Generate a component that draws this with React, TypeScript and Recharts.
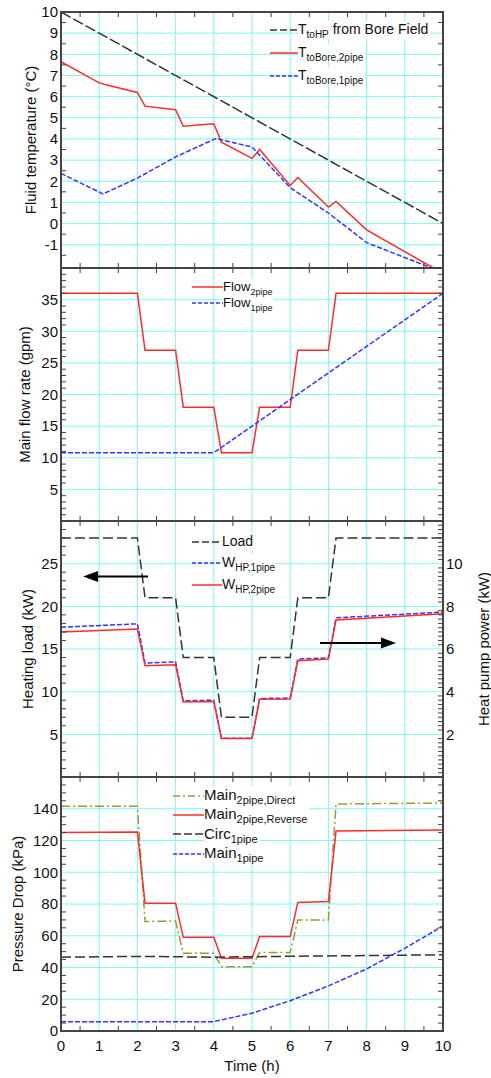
import React from 'react'
import { LineChart, Line, XAxis, YAxis, CartesianGrid, Legend, ReferenceLine } from 'recharts'

const FONT = '"Liberation Sans", Arial, Helvetica, sans-serif'
const GRID = '#7cf7f7'
const FRAME = '#444'
const RED = '#ff2b2b'
const BLUE = '#3434ff'
const BLACK = '#333'
const OLIVE = '#9a9a32'

// time axis (h)
const hourTicks = [0, 1, 2, 3, 4, 5, 6, 7, 8, 9, 10]

// panel 1: fluid temperature (°C)
const toHPTime = [0, 10]
const toHP = [10, 0]
const bore2Time = [0, 1, 1.2, 2, 2.2, 3, 3.2, 4, 4.2, 5, 5.2, 6, 6.2, 7, 7.2, 8, 9.75]
const bore2 = [7.65, 6.65, 6.55, 6.2, 5.55, 5.38, 4.6, 4.72, 3.85, 3.08, 3.5, 1.8, 2.18, 0.78, 1.05, -0.3, -2.1]
const bore1Time = [0, 1.1, 2, 3, 4.05, 5, 6, 7, 8, 9.7]
const bore1 = [2.37, 1.4, 2.15, 3.15, 4.02, 3.62, 1.7, 0.5, -0.9, -2.1]
const tempTicks = [-1, 0, 1, 2, 3, 4, 5, 6, 7, 8, 9, 10]

// panel 2: main flow rate (gpm)
const stepTime = [0, 2, 2.2, 3, 3.2, 4, 4.2, 5, 5.2, 6, 6.2, 7, 7.2, 10]
const flow2 = [36, 36, 27, 27, 18, 18, 10.8, 10.8, 18, 18, 27, 27, 36, 36]
const flow1Time = [0, 4, 10]
const flow1 = [10.8, 10.8, 36]
const flowTicks = [5, 10, 15, 20, 25, 30, 35]

// panel 3: heating load (kW) / heat pump power (kW)
const load = [28, 28, 21, 21, 14, 14, 7, 7, 14, 14, 21, 21, 28, 28]
const whp2 = [6.8, 6.94, 5.21, 5.26, 3.52, 3.54, 1.8, 1.8, 3.65, 3.66, 5.45, 5.53, 7.36, 7.65]
const whp1 = [7.02, 7.18, 5.34, 5.4, 3.57, 3.6, 1.82, 1.82, 3.68, 3.7, 5.53, 5.58, 7.46, 7.73]
const loadTicks = [5, 10, 15, 20, 25]
const powerTicks = [2, 4, 6, 8, 10]
const arrowLeft = [{ x: 2.28, y: 23.5 }, { x: 0.58, y: 23.5 }]
const arrowRight = [{ x: 6.78, y: 15.7 }, { x: 8.77, y: 15.7 }]

// panel 4: pressure drop (kPa)
const mainDirect = [141.5, 141.5, 69, 69.3, 49, 49, 40.5, 40.5, 49.4, 49.4, 70, 70, 143, 143.6]
const mainReverse = [125, 125.3, 80.5, 80.5, 59, 59, 45.8, 45.8, 59.5, 59.5, 81, 81.5, 126, 126.6]
const circTime = [0, 2, 4, 5, 7, 10]
const circ = [46.5, 47, 46.5, 46.8, 47.3, 48]
const main1Time = [0, 4, 5, 6, 7, 8, 9, 10]
const main1 = [5.9, 5.9, 11.2, 19.1, 28.4, 39.1, 52.1, 66.2]
const pressTicks = [0, 20, 40, 60, 80, 100, 120, 140]

const pts = (t: number[], v: number[]) => t.map((x, i) => ({ t: x, v: v[i] }))

// minor tick positions, skipping those that sit on a grid line
const minor = (lo: number, hi: number, step: number, major: number) => {
  const out: number[] = []
  for (let k = Math.ceil(lo / step); k * step <= hi + 1e-9; k++) {
    const v = Math.round(k * step * 1000) / 1000
    if (Math.abs(v / major - Math.round(v / major)) > 1e-6) out.push(v)
  }
  return out
}
const merge = (a: number[], b: number[]) => [...a, ...b].sort((p, q) => p - q)
const isMajor = (v: number, majors: number[]) => majors.some((m) => Math.abs(m - v) < 1e-6)

const PAD = 12
const LEFT = 61
const RIGHT = 48
const PLOT_W = 491 - LEFT - RIGHT
const TICK = 5
const frameLine = { stroke: FRAME, strokeWidth: 2 }
const txt = { fontSize: 15, fill: '#111', fontFamily: FONT }

function YTitle({ viewBox, text, dx }: any) {
  const vb = viewBox || { x: 0, y: 0, width: 0, height: 0 }
  const x = vb.x + dx
  const y = vb.y + vb.height / 2
  return (
    <text x={x} y={y} transform={`rotate(-90, ${x}, ${y})`} textAnchor="middle" dominantBaseline="central" {...txt}>
      {text}
    </text>
  )
}

function XTitle({ viewBox, text }: any) {
  const vb = viewBox || { x: 0, y: 0, width: 0, height: 0 }
  return (
    <text x={vb.x + vb.width / 2} y={vb.y + 34} textAnchor="middle" dominantBaseline="central" {...txt}>{text}</text>
  )
}

function Arrow(props: any) {
  const { x1, y1, x2, y2 } = props
  if (x1 == null) return null
  const d = Math.sign(x2 - x1) || 1
  return (
    <g>
      <line x1={x1} y1={y1} x2={x2 - d * 10} y2={y2} stroke="#000" strokeWidth={2} />
      <polygon points={`${x2},${y2} ${x2 - d * 15},${y2 - 5.5} ${x2 - d * 15},${y2 + 5.5}`} fill="#000" />
    </g>
  )
}

type Item = { color: string; dash?: string; main: string; sub?: string; rest?: string }

function LegendBox({ items, rowH, sample, size }: { items: Item[]; rowH: number; sample: number; size: number }) {
  return (
    <div style={{ fontFamily: FONT, fontSize: size, color: '#111' }}>
      {items.map((it, i) => (
        <div key={i} style={{ display: 'flex', alignItems: 'center', height: rowH, whiteSpace: 'nowrap' }}>
          <svg width={sample} height={6} style={{ display: 'block' }}>
            <line x1={0} x2={sample} y1={3} y2={3} stroke={it.color} strokeWidth={1.5} strokeDasharray={it.dash} />
          </svg>
          <span style={{ background: '#fff', lineHeight: `${size + 2}px`, paddingRight: 2 }}>
            {it.main}
            <span style={{ fontSize: Math.round(size * 0.7), position: 'relative', top: 4 }}>{it.sub}</span>
            {it.rest}
          </span>
        </div>
      ))}
    </div>
  )
}

type PanelCfg = {
  plotTop: number
  plotH: number
  bottom: number
  yDomain: [number, number]
  yTicks: number[]
  yMinor: number[]
  title: string
  titleDx: number
  showX?: boolean
  right?: { domain: [number, number]; ticks: number[]; minor: number[]; title: string }
  legend: { top: number; left: number; items: Item[]; rowH: number; sample: number; size: number }
}

// bottom axis tick: label on whole hours, inward minor ticks (bottom and top) on half hours
const xTick = (c: PanelCfg) => (p: any) => {
  const v = p.payload.value
  const base = p.y - 9
  if (isMajor(v, hourTicks)) {
    return c.showX ? <text x={p.x} y={p.y} dy="0.71em" textAnchor="middle" {...txt}>{v}</text> : <g />
  }
  return (
    <g stroke={FRAME} strokeWidth={1}>
      <line x1={p.x} x2={p.x} y1={base} y2={base - TICK} />
      <line x1={p.x} x2={p.x} y1={base - c.plotH} y2={base - c.plotH + TICK} />
    </g>
  )
}

// left axis tick: label on majors, inward minor ticks (left, and right too if no right axis)
const yTick = (c: PanelCfg) => (p: any) => {
  const v = p.payload.value
  const base = p.x + 3
  if (isMajor(v, c.yTicks)) {
    return <text x={p.x} y={p.y} dy="0.355em" textAnchor="end" {...txt}>{v}</text>
  }
  return (
    <g stroke={FRAME} strokeWidth={1}>
      <line x1={base} x2={base + TICK} y1={p.y} y2={p.y} />
      {!c.right && <line x1={base + PLOT_W} x2={base + PLOT_W - TICK} y1={p.y} y2={p.y} />}
    </g>
  )
}

const rTick = (majors: number[]) => (p: any) => {
  const v = p.payload.value
  const base = p.x - 3
  if (isMajor(v, majors)) {
    return <text x={p.x} y={p.y} dy="0.355em" textAnchor="start" {...txt}>{v}</text>
  }
  return <line x1={base} x2={base - TICK} y1={p.y} y2={p.y} stroke={FRAME} strokeWidth={1} />
}

function axes(c: PanelCfg) {
  const els = [
    <CartesianGrid key="g" stroke={GRID} strokeWidth={1} verticalValues={hourTicks} horizontalValues={c.yTicks} />,
    <XAxis key="x" type="number" dataKey="t" domain={[0, 10]} ticks={merge(hourTicks, minor(0, 10, 0.5, 1))}
      interval={0} height={1} tickLine={false} tickSize={0} tickMargin={9} axisLine={frameLine}
      tick={xTick(c)} label={c.showX ? <XTitle text="Time (h)" /> : undefined} />,
    <YAxis key="y" type="number" domain={c.yDomain} ticks={merge(c.yTicks, c.yMinor)} interval={0} width={1}
      tickLine={false} tickSize={0} tickMargin={3} axisLine={frameLine} tick={yTick(c)} allowDataOverflow
      label={<YTitle text={c.title} dx={-c.titleDx} />} />,
    <ReferenceLine key="ft" y={c.yDomain[1]} stroke={FRAME} strokeWidth={2} ifOverflow="extendDomain" />,
    <ReferenceLine key="fr" x={10} stroke={FRAME} strokeWidth={2} ifOverflow="extendDomain" />,
  ]
  if (c.right) {
    els.push(
      <YAxis key="r" yAxisId="r" orientation="right" type="number" domain={c.right.domain}
        ticks={merge(c.right.ticks, c.right.minor)} interval={0} width={1} tickLine={false} tickSize={0} tickMargin={3}
        axisLine={frameLine} tick={rTick(c.right.ticks)} label={<YTitle text={c.right.title} dx={40} />} />,
    )
  }
  els.push(
    <Legend key="leg" layout="vertical" align="center" verticalAlign="middle"
      wrapperStyle={{ position: 'absolute', top: c.legend.top - (c.plotTop - PAD), left: c.legend.left, width: 'auto', height: 'auto' }}
      content={() => <LegendBox items={c.legend.items} rowH={c.legend.rowH} sample={c.legend.sample} size={c.legend.size} />} />,
  )
  return els
}

function Panel({ cfg, children }: { cfg: PanelCfg; children: React.ReactNode }) {
  return (
    <div style={{ position: 'absolute', left: 0, top: cfg.plotTop - PAD }}>
      <LineChart width={491} height={PAD + cfg.plotH + cfg.bottom}
        margin={{ top: PAD, right: RIGHT - (cfg.right ? 1 : 0), bottom: cfg.bottom - 1, left: LEFT - 1 }}>
        {axes(cfg)}
        {children}
      </LineChart>
      {/* plot frame */}
      <div style={{
        position: 'absolute', left: LEFT - 1, top: PAD - 1, width: PLOT_W + 2, height: cfg.plotH + 2,
        border: `2px solid ${FRAME}`, boxSizing: 'border-box', pointerEvents: 'none',
      }} />
    </div>
  )
}

const lineBase = { type: 'linear' as const, dataKey: 'v', dot: false, activeDot: false, strokeWidth: 1.5, isAnimationActive: false }

const p1: PanelCfg = {
  plotTop: 12, plotH: 256, bottom: PAD, yDomain: [-2.1, 10], yTicks: tempTicks, yMinor: minor(-2.1, 10, 0.5, 1),
  title: 'Fluid temperature (°C)', titleDx: 30,
  legend: {
    top: 18.5, left: 270, rowH: 23, sample: 28, size: 14, items: [
      { color: BLACK, dash: '7 3', main: 'T', sub: 'toHP', rest: ' from Bore Field' },
      { color: RED, main: 'T', sub: 'toBore,2pipe' },
      { color: BLUE, dash: '4 2', main: 'T', sub: 'toBore,1pipe' },
    ],
  },
}

const p2: PanelCfg = {
  plotTop: 268, plotH: 253, bottom: PAD, yDomain: [0, 40], yTicks: flowTicks, yMinor: minor(0, 40, 1, 5),
  title: 'Main flow rate (gpm)', titleDx: 36,
  legend: {
    top: 279, left: 192, rowH: 16, sample: 31, size: 13, items: [
      { color: RED, main: 'Flow', sub: '2pipe' },
      { color: BLUE, dash: '4 2', main: 'Flow', sub: '1pipe' },
    ],
  },
}

const p3: PanelCfg = {
  plotTop: 521, plotH: 256, bottom: PAD, yDomain: [0, 30], yTicks: loadTicks, yMinor: minor(0, 30, 1, 5),
  title: 'Heating load (kW)', titleDx: 33,
  right: { domain: [0, 12], ticks: powerTicks, minor: minor(0, 12, 0.2, 2), title: 'Heat pump power (kW)' },
  legend: {
    top: 531, left: 192, rowH: 21.5, sample: 30, size: 14, items: [
      { color: BLACK, dash: '7 3', main: 'Load' },
      { color: BLUE, dash: '4 2', main: 'W', sub: 'HP,1pipe' },
      { color: RED, main: 'W', sub: 'HP,2pipe' },
    ],
  },
}

const p4: PanelCfg = {
  plotTop: 777, plotH: 254, bottom: 47, yDomain: [0, 160], yTicks: pressTicks, yMinor: minor(0, 160, 5, 20),
  title: 'Pressure Drop (kPa)', titleDx: 43, showX: true,
  legend: {
    top: 786, left: 173, rowH: 19.3, sample: 31, size: 15, items: [
      { color: OLIVE, dash: '7 3 2 3', main: 'Main', sub: '2pipe,Direct' },
      { color: RED, main: 'Main', sub: '2pipe,Reverse' },
      { color: BLACK, dash: '8 3', main: 'Circ', sub: '1pipe' },
      { color: BLUE, dash: '4 2', main: 'Main', sub: '1pipe' },
    ],
  },
}

export default function App() {
  return (
    <div style={{ position: 'absolute', left: 0, top: 0, width: 491, height: 1078, background: '#fff', overflow: 'hidden' }}>
      <Panel cfg={p1}>
        <Line {...lineBase} data={pts(toHPTime, toHP)} stroke={BLACK} strokeDasharray="11 3" name="toHP" />
        <Line {...lineBase} data={pts(bore2Time, bore2)} stroke={RED} name="bore2" />
        <Line {...lineBase} data={pts(bore1Time, bore1)} stroke={BLUE} strokeDasharray="5 2" name="bore1" />
      </Panel>
      <Panel cfg={p2}>
        <Line {...lineBase} data={pts(stepTime, flow2)} stroke={RED} name="flow2" />
        <Line {...lineBase} data={pts(flow1Time, flow1)} stroke={BLUE} strokeDasharray="5 2" name="flow1" />
      </Panel>
      <Panel cfg={p3}>
        <Line {...lineBase} data={pts(stepTime, load)} stroke={BLACK} strokeDasharray="10 4" name="load" />
        <Line {...lineBase} yAxisId="r" data={pts(stepTime, whp1)} stroke={BLUE} strokeDasharray="5 2" name="whp1" />
        <Line {...lineBase} yAxisId="r" data={pts(stepTime, whp2)} stroke={RED} name="whp2" />
        <ReferenceLine segment={arrowLeft} shape={(p: any) => <Arrow {...p} />} />
        <ReferenceLine segment={arrowRight} shape={(p: any) => <Arrow {...p} />} />
      </Panel>
      <Panel cfg={p4}>
        <Line {...lineBase} data={pts(stepTime, mainDirect)} stroke={OLIVE} strokeDasharray="9 3 2 3" name="direct" />
        <Line {...lineBase} data={pts(stepTime, mainReverse)} stroke={RED} name="reverse" />
        <Line {...lineBase} data={pts(circTime, circ)} stroke={BLACK} strokeDasharray="10 4" name="circ" />
        <Line {...lineBase} data={pts(main1Time, main1)} stroke={BLUE} strokeDasharray="5 2" name="main1" />
      </Panel>
    </div>
  )
}
